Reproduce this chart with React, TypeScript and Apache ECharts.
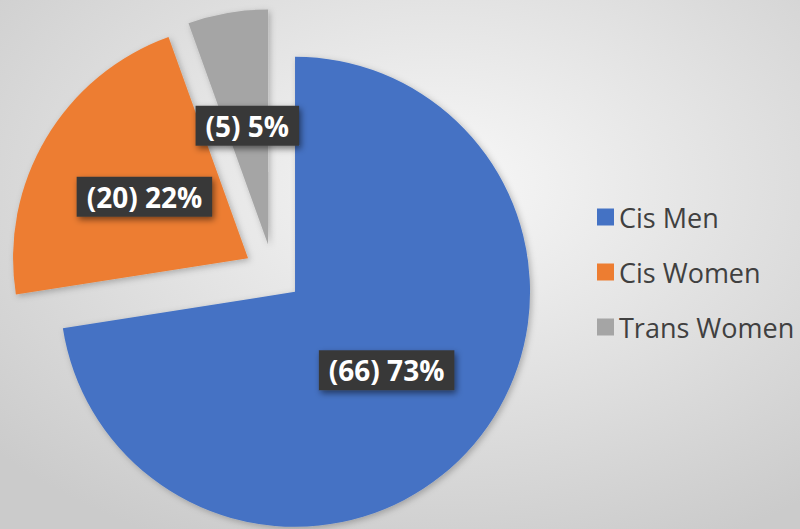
import React, { useEffect, useRef } from "react";
import * as echarts from "echarts";

const categories = ["Cis Men", "Cis Women", "Trans Women"];
const counts = [66, 20, 5];
const percentLabels = ["73%", "22%", "5%"];
const colors = ["#4472C4", "#ED7D31", "#A5A5A5"];

export default function App() {
  const ref = useRef<HTMLDivElement>(null);
  useEffect(() => {
    if (!ref.current) return;
    const chart = echarts.init(ref.current, null, { renderer: "svg" });
    const data = categories.map((name, i) => ({
      name,
      value: counts[i],
      selected: true,
      itemStyle: { color: colors[i] },
    }));
    chart.setOption({
      animation: false,
      backgroundColor: {
        type: "radial",
        x: 0.55,
        y: 0.35,
        r: 0.75,
        colorStops: [
          { offset: 0, color: "#f8f8f8" },
          { offset: 1, color: "#cbcbcb" },
        ],
      },
      legend: {
        orient: "vertical",
        left: 592,
        top: 198,
        itemWidth: 17,
        itemHeight: 17,
        itemGap: 27,
        icon: "rect",
        data: categories,
        textStyle: {
          fontFamily: "Open Sans",
          fontSize: 27,
          color: "#404040",
          lineHeight: 28,
          padding: [0, 0, 0, 0],
        },
      },
      series: [
        {
          type: "pie",
          center: [273, 273],
          radius: 235,
          startAngle: 90,
          clockwise: true,
          selectedMode: "multiple",
          selectedOffset: 29,
          data,
          itemStyle: {
            shadowBlur: 6,
            shadowColor: "rgba(0,0,0,0.25)",
            shadowOffsetX: 2,
            shadowOffsetY: 2,
          },
          label: {
            position: "inside",
            formatter: (p: any) => `(${counts[p.dataIndex]}) ${percentLabels[p.dataIndex]}`,
            fontFamily: "Open Sans",
            fontWeight: "bold",
            fontSize: 28,
            color: "#ffffff",
            backgroundColor: "#383838",
            padding: [7, 10, 5, 10],
            shadowBlur: 6,
            shadowColor: "rgba(0,0,0,0.5)",
            shadowOffsetX: 2,
            shadowOffsetY: 3,
          },
          labelLine: { show: false },
          emphasis: { disabled: true },
        },
      ],
    });
    return () => chart.dispose();
  }, []);
  return <div ref={ref} style={{ width: 800, height: 529, position: "absolute", left: 0, top: 0 }} />;
}
